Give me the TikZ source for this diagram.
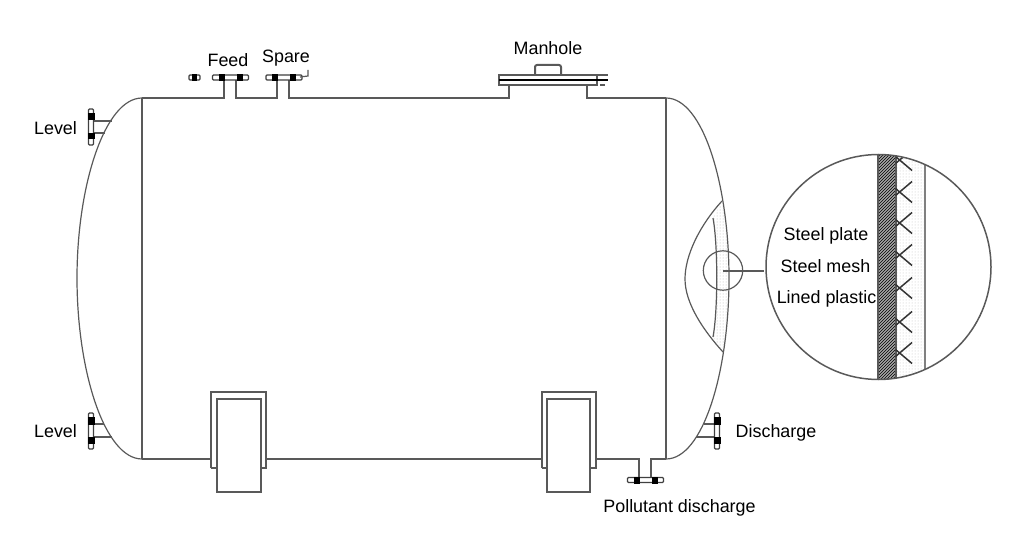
\documentclass[tikz,border=0pt]{standalone}
\usepackage{fontspec}
\setmainfont{Liberation Sans}
\usetikzlibrary{patterns}
\tikzset{
	tankline/.style={draw=black!65, line width=1.5pt},
	thinline/.style={draw=black!65, line width=1.2pt},
	labeltext/.style={font=\fontsize{17.9}{20}\selectfont, text=black, inner sep=0pt},
}
\def\flangev(#1,#2){
	\draw[thinline, draw=black!75, rounded corners=1pt, fill=white] (#1-2.5,#2-18) rectangle (#1+2.5,#2+18);
	\fill[black] (#1-3.5,#2-14) rectangle (#1+3.5,#2-6.5);
	\fill[black] (#1-3.5,#2+6) rectangle (#1+3.5,#2+12.5);
}
\def\flangeh(#1,#2){
	\draw[thinline, draw=black!75, rounded corners=1pt, fill=white] (#1-18,#2-2.5) rectangle (#1+18,#2+2.5);
	\fill[black] (#1-12,#2-3.5) rectangle (#1-6,#2+3.5);
	\fill[black] (#1+6,#2-3.5) rectangle (#1+12,#2+3.5);
}
\def\meshcross(#1,#2){
	\draw[black!80, line width=1.5pt] (#1-4,#2+3.5) -- (#1+12.5,#2-10.5);
	\draw[black!80, line width=1.5pt] (#1-4,#2-3.5) -- (#1+12.5,#2+10.5);
}

\begin{document}
\begin{tikzpicture}[x=1pt,y=-1pt]
	\useasboundingbox (0,0) rectangle (1024,540);

	% shell
	\draw[tankline] (142,98) -- (224,98) -- (224,77);
	\draw[tankline] (236,77) -- (236,98) -- (277,98) -- (277,77);
	\draw[tankline] (289,77) -- (289,98) -- (509,98) -- (509,85);
	\draw[tankline] (587,85) -- (587,98) -- (666,98);
	\draw[tankline] (142,98) -- (142,459);
	\draw[tankline] (666,98) -- (666,459);
	\draw[tankline] (142,459) -- (211,459);
	\draw[tankline] (266,459) -- (542,459);
	\draw[tankline] (596,459) -- (639,459) -- (639,478);
	\draw[tankline] (651,478) -- (651,459) -- (666,459);
	\draw[thinline] (142,98) .. controls (105,98) and (77,185) .. (77,278) .. controls (77,372) and (105,459) .. (142,459);
	\draw[thinline] (666,98) .. controls (703,98) and (729,185) .. (729,278) .. controls (729,372) and (703,459) .. (666,459);

	% top nozzles
	\flangeh(230.5,77.5)
	\flangeh(284,77.5)
	\draw[thinline, draw=black!75, rounded corners=1pt, fill=white] (189,75) rectangle (200,80);
	\fill[black] (192,74) rectangle (197,81);
	\draw[thinline] (308,70) -- (308,76) -- (300,77);

	% manhole
	\draw[tankline] (499,75) rectangle (597,85);
	\draw[black, line width=1.6pt] (499,80) -- (608,80);
	\draw[thinline] (597,75) -- (608,75);
	\draw[thinline] (600,85) -- (605,85);
	\draw[tankline, line width=2pt, rounded corners=2pt] (535,75) -- (535,65) -- (561,65) -- (561,75);

	% side nozzles
	\draw[thinline] (94,121) -- (112,121);
	\draw[thinline] (94,133) -- (105,133);
	\flangev(91,127)
	\draw[thinline] (94,424) -- (104,424);
	\draw[thinline] (94,437) -- (112,437);
	\flangev(91,431)
	\draw[thinline] (704,424) -- (714,424);
	\draw[thinline] (696,437) -- (714,437);
	\flangev(717,431)
	\flangeh(645.5,480)

	% saddles
	\draw[tankline] (211,468) -- (211,392) -- (266,392) -- (266,468) -- (261,468);
	\draw[tankline] (211,468) -- (217,468);
	\draw[tankline] (217,399) rectangle (261,492);
	\draw[tankline] (542,468) -- (542,392) -- (596,392) -- (596,468) -- (590,468);
	\draw[tankline] (542,468) -- (547,468);
	\draw[tankline] (547,399) rectangle (590,492);

	% cut-away on the right head
	\fill[pattern=dots, pattern color=black!30] (722,201) .. controls (726,225) and (729,255) .. (729,278) .. controls (729,300) and (727,325) .. (723,352) -- (713,337) .. controls (718,310) and (718,245) .. (713,218) -- cycle;
	\draw[thinline] (722,201) .. controls (700,225) and (685,255) .. (685,279) .. controls (685,303) and (703,330) .. (723,352);
	\draw[thinline] (713,218) .. controls (718,245) and (718,310) .. (713,337);
	\draw[thinline] (723,270.5) circle (19.7);
	\draw[tankline, line width=1.8pt] (723,270.7) -- (764,270.7);

	% detail
	\begin{scope}
		\clip (878.5,267) circle (112.5);
		\fill[pattern=dots, pattern color=black!25] (896,150) rectangle (925,385);
		\fill[black!35] (878,150) rectangle (896,385);
		\fill[pattern=north east lines, pattern color=black] (878,150) rectangle (896,385);
		\draw[thinline] (878,150) -- (878,385);
		\draw[thinline] (896,150) -- (896,385);
		\draw[thinline, line width=2pt, draw=black!50] (925,150) -- (925,385);
		\meshcross(899.5,160)
	\end{scope}
	\meshcross(899.5,192)
	\meshcross(899.5,223)
	\meshcross(899.5,255)
	\meshcross(899.5,288)
	\meshcross(899.5,322)
	\meshcross(899.5,353)
	\draw[thinline, line width=1.5pt] (878.5,267) circle (112.5);

	% labels
	\node[labeltext] (feed) at (228,60.5) {Feed};
	\node[labeltext] (spare) at (286,58.5) {Spare};
	\node[labeltext] (manhole) at (548,48) {Manhole};
	\node[labeltext] (leveltop) at (55.5,128.5) {Level};
	\node[labeltext] (levelbottom) at (55.5,431) {Level};
	\node[labeltext] (discharge) at (776,433) {Discharge};
	\node[labeltext] (pollutant) at (679.5,507.5) {Pollutant discharge};
	\node[labeltext] (plate) at (826,235.5) {Steel plate};
	\node[labeltext] (mesh) at (825.5,266.5) {Steel mesh};
	\node[labeltext] (plastic) at (826.5,299) {Lined plastic};
\end{tikzpicture}
\end{document}
